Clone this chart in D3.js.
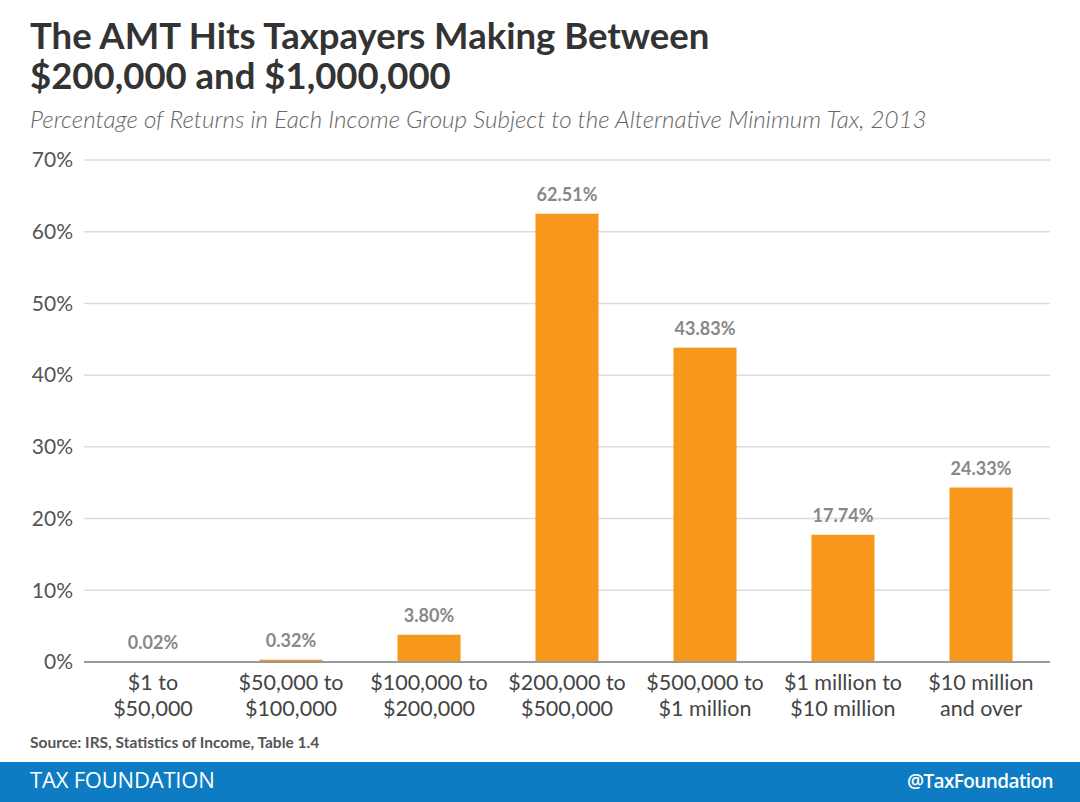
<!DOCTYPE html>
<html>
<head>
<meta charset="utf-8">
<script src="https://cdn.jsdelivr.net/npm/d3@7"></script>
<style>
  body { margin: 0; background: #fff; }
  svg { display: block; font-family: Lato, "Open Sans", sans-serif; }
</style>
</head>
<body>
<div id="chart"></div>
<script>
var categories = [
  ["$1 to", "$50,000"],
  ["$50,000 to", "$100,000"],
  ["$100,000 to", "$200,000"],
  ["$200,000 to", "$500,000"],
  ["$500,000 to", "$1 million"],
  ["$1 million to", "$10 million"],
  ["$10 million", "and over"]
];
var values = [0.02, 0.32, 3.80, 62.51, 43.83, 17.74, 24.33];
var yTicks = [0, 10, 20, 30, 40, 50, 60, 70];

var width = 1080, height = 802;
var svg = d3.select('#chart').append('svg')
  .attr('width', width)
  .attr('height', height);

// titles
svg.append('text').attr('x', 30).attr('y', 49)
  .attr('font-size', 36.5).attr('font-weight', 'bold').attr('fill', '#333')
  .text('The AMT Hits Taxpayers Making Between');
svg.append('text').attr('x', 30).attr('y', 89)
  .attr('font-size', 36.5).attr('font-weight', 'bold').attr('fill', '#333')
  .text('$200,000 and $1,000,000');
svg.append('text').attr('x', 30).attr('y', 128)
  .attr('font-size', 24.2).attr('font-style', 'italic').attr('font-weight', 300).attr('fill', '#666')
  .text('Percentage of Returns in Each Income Group Subject to the Alternative Minimum Tax, 2013');

var x = d3.scaleBand()
  .domain(d3.range(categories.length))
  .range([84, 1050])
  .paddingInner(0.543)
  .paddingOuter(0.2715);

var y = d3.scaleLinear().domain([0, 70]).range([662, 160]);

// gridlines
svg.append('g').selectAll('line')
  .data(yTicks.filter(function(d) { return d > 0; }))
  .enter().append('line')
  .attr('x1', 84).attr('x2', 1050)
  .attr('y1', function(d) { return y(d); })
  .attr('y2', function(d) { return y(d); })
  .attr('stroke', '#dcdcdc').attr('stroke-width', 1.5);

// y axis labels
var yAxis = d3.axisLeft(y).tickValues(yTicks)
  .tickFormat(function(d) { return d + '%'; })
  .tickSize(0).tickPadding(0);
var gy = svg.append('g').attr('transform', 'translate(73,0)').call(yAxis);
gy.select('.domain').remove();
gy.selectAll('text').attr('font-size', 21).attr('fill', '#555')
  .attr('font-family', 'Lato');

// bars
svg.append('g').selectAll('rect')
  .data(values)
  .enter().append('rect')
  .attr('x', function(d, i) { return x(i); })
  .attr('width', x.bandwidth())
  .attr('y', function(d) { return y(d); })
  .attr('height', function(d) { return y(0) - y(d); })
  .attr('fill', '#f7981d');

// value labels
svg.append('g').selectAll('text')
  .data(values)
  .enter().append('text')
  .attr('x', function(d, i) { return x(i) + x.bandwidth() / 2; })
  .attr('y', function(d) { return y(d) - 13; })
  .attr('text-anchor', 'middle')
  .attr('font-size', 18).attr('font-weight', 'bold').attr('fill', '#888')
  .text(function(d) { return d.toFixed(2) + '%'; });

// baseline
svg.append('line')
  .attr('x1', 84).attr('x2', 1050)
  .attr('y1', y(0)).attr('y2', y(0))
  .attr('stroke', '#999').attr('stroke-width', 2);

// x labels
var xl = svg.append('g').selectAll('text')
  .data(categories)
  .enter().append('text')
  .attr('text-anchor', 'middle')
  .attr('font-size', 21.5).attr('fill', '#444');
xl.append('tspan')
  .attr('x', function(d, i) { return x(i) + x.bandwidth() / 2; })
  .attr('y', 690)
  .text(function(d) { return d[0]; });
xl.append('tspan')
  .attr('x', function(d, i) { return x(i) + x.bandwidth() / 2; })
  .attr('y', 716)
  .text(function(d) { return d[1]; });

// source
svg.append('text').attr('x', 30).attr('y', 748)
  .attr('font-size', 15.5).attr('font-weight', 'bold').attr('fill', '#555')
  .text('Source: IRS, Statistics of Income, Table 1.4');

// footer
svg.append('rect').attr('x', 0).attr('y', 762).attr('width', width).attr('height', 40)
  .attr('fill', '#0e7cc3');
svg.append('text').attr('x', 30).attr('y', 788)
  .attr('font-size', 22).attr('fill', '#fff')
  .attr('font-family', '"Open Sans", sans-serif').attr('letter-spacing', -0.2)
  .text('TAX FOUNDATION');
svg.append('text').attr('x', 1053).attr('y', 788)
  .attr('text-anchor', 'end')
  .attr('font-size', 19).attr('font-weight', 600).attr('fill', '#fff')
  .attr('font-family', '"Open Sans", sans-serif').attr('letter-spacing', -0.6)
  .text('@TaxFoundation');
</script>
</body>
</html>
